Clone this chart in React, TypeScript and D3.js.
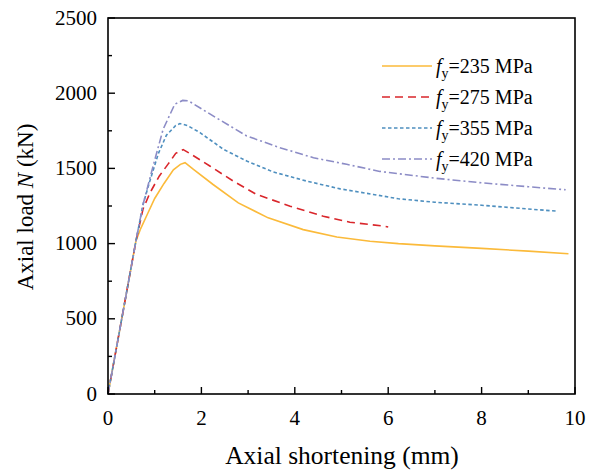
import React from "react";
import * as d3 from "d3";

const xTicks = [0, 2, 4, 6, 8, 10];
const yTicks = [0, 500, 1000, 1500, 2000, 2500];

const s235x = [0, 0.3, 0.6, 0.7, 0.85, 1.0, 1.2, 1.4, 1.55, 1.65, 1.83, 2.25, 2.79, 3.43, 4.18, 4.9, 5.61, 6.22, 7.0, 8.0, 9.0, 9.86];
const s235y = [0, 510, 1020, 1100, 1200, 1300, 1400, 1490, 1527, 1538, 1493, 1393, 1271, 1171, 1093, 1044, 1016, 1000, 985, 968, 950, 933];

const s275x = [0, 0.3, 0.6, 0.75, 0.9, 1.1, 1.29, 1.45, 1.61, 1.8, 2.18, 2.68, 3.18, 3.9, 4.61, 5.18, 5.9, 6.0];
const s275y = [0, 510, 1020, 1230, 1338, 1450, 1530, 1600, 1625, 1590, 1516, 1416, 1327, 1249, 1182, 1142, 1116, 1110];

const s355x = [0, 0.3, 0.6, 0.75, 0.9, 1.08, 1.25, 1.45, 1.54, 1.7, 1.97, 2.47, 2.97, 3.54, 4.25, 4.97, 5.68, 6.22, 7.0, 8.0, 9.0, 9.6];
const s355y = [0, 510, 1020, 1260, 1420, 1600, 1720, 1785, 1798, 1785, 1738, 1627, 1549, 1476, 1416, 1364, 1327, 1298, 1275, 1255, 1230, 1216];

const s420x = [0, 0.3, 0.6, 0.75, 0.97, 1.18, 1.43, 1.6, 1.72, 2.25, 2.97, 3.68, 4.4, 5.11, 5.82, 7.0, 8.0, 9.0, 9.8];
const s420y = [0, 510, 1020, 1260, 1520, 1760, 1927, 1952, 1950, 1849, 1716, 1638, 1571, 1527, 1480, 1435, 1404, 1378, 1358];

const seriesLabels = ["235", "275", "355", "420"];

const series = [
  { xs: s235x, ys: s235y, color: "#FBBA3A", dash: "none" },
  { xs: s275x, ys: s275y, color: "#D9262B", dash: "8,5" },
  { xs: s355x, ys: s355y, color: "#4E8FBF", dash: "3.5,2.5" },
  { xs: s420x, ys: s420y, color: "#8C8CC6", dash: "8,3,2,3" },
];

export default function App() {
  const W = 589, H = 472;
  const left = 108, right = 575, top = 18, bottom = 394;
  const x = d3.scaleLinear().domain([0, 10]).range([left, right]);
  const y = d3.scaleLinear().domain([0, 2500]).range([bottom, top]);
  const line = d3.line<[number, number]>().x(d => x(d[0])).y(d => y(d[1]));
  const font = "'Liberation Serif', 'Times New Roman', serif";
  const xMinor = d3.range(1, 10, 2);
  const yMinor = d3.range(250, 2500, 500);

  return (
    <svg width={W} height={H} style={{ position: "absolute", left: 0, top: 0, background: "#fff" }} fontFamily={font}>
      {series.map((s, i) => (
        <path key={i} d={line(s.xs.map((v, j) => [v, s.ys[j]] as [number, number])) || ""}
          fill="none" stroke={s.color} strokeWidth={1.6} strokeDasharray={s.dash} />
      ))}
      <rect x={left} y={top} width={right - left} height={bottom - top} fill="none" stroke="#000" strokeWidth={1.6} />
      {xTicks.map(t => (
        <g key={"xt" + t}>
          <line x1={x(t)} x2={x(t)} y1={bottom} y2={bottom - 7} stroke="#000" strokeWidth={1.4} />
          <text x={x(t)} y={bottom + 31} fontSize={21} textAnchor="middle">{t}</text>
        </g>
      ))}
      {xMinor.map(t => (
        <line key={"xm" + t} x1={x(t)} x2={x(t)} y1={bottom} y2={bottom - 4} stroke="#000" strokeWidth={1.4} />
      ))}
      {yTicks.map(t => (
        <g key={"yt" + t}>
          <line x1={left} x2={left + 7} y1={y(t)} y2={y(t)} stroke="#000" strokeWidth={1.4} />
          <text x={97} y={y(t) + 6.5} fontSize={21} textAnchor="end">{t}</text>
        </g>
      ))}
      {yMinor.map(t => (
        <line key={"ym" + t} x1={left} x2={left + 4} y1={y(t)} y2={y(t)} stroke="#000" strokeWidth={1.4} />
      ))}
      <text x={342} y={464} fontSize={25.5} textAnchor="middle">Axial shortening (mm)</text>
      <text transform={`translate(33, 207) rotate(-90)`} fontSize={23} textAnchor="middle">
        Axial load <tspan fontStyle="italic">N</tspan> (kN)
      </text>
      {series.map((s, i) => {
        const ly = 66 + i * 31;
        return (
          <g key={"lg" + i}>
            <line x1={382} x2={432} y1={ly} y2={ly} stroke={s.color} strokeWidth={1.6} strokeDasharray={s.dash} />
            <text x={436} y={ly + 7} fontSize={20}>
              <tspan fontStyle="italic">f</tspan>
              <tspan fontSize={14} dy={5}>y</tspan>
              <tspan dy={-5}>={seriesLabels[i]} MPa</tspan>
            </text>
          </g>
        );
      })}
    </svg>
  );
}
